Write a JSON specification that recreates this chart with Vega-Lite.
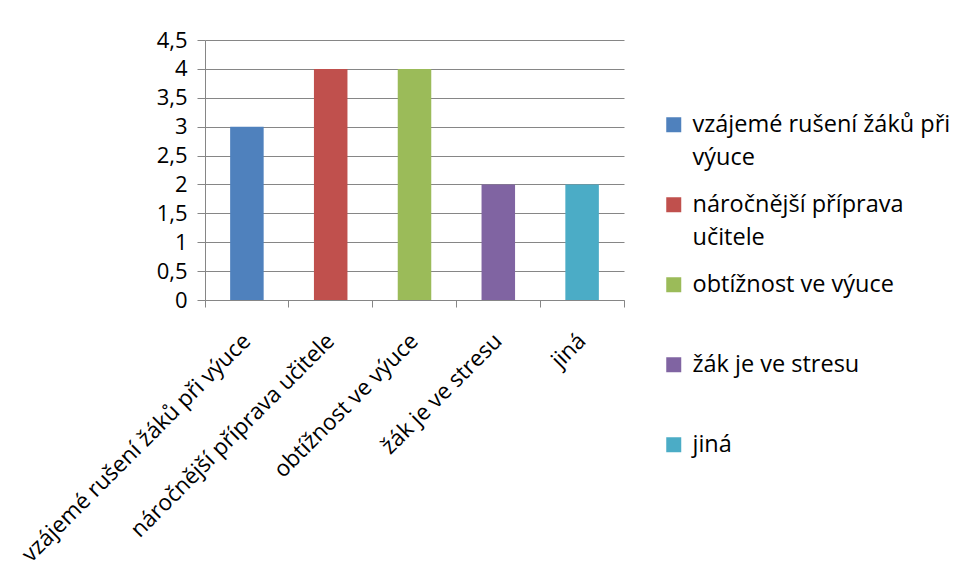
{
  "$schema": "https://vega.github.io/schema/vega-lite/v6.json",
  "width": 419,
  "height": 260,
  "autosize": {"type": "none"},
  "padding": {"left": 205, "top": 40, "right": 334, "bottom": 278},
  "background": "white",
  "data": {
    "values": [
      {"kategorie": "vzájemé rušení žáků při výuce", "pocet": 3},
      {"kategorie": "náročnější příprava učitele", "pocet": 4},
      {"kategorie": "obtížnost ve výuce", "pocet": 4},
      {"kategorie": "žák je ve stresu", "pocet": 2},
      {"kategorie": "jiná", "pocet": 2}
    ]
  },
  "mark": {"type": "bar", "width": {"band": 0.4}},
  "encoding": {
    "x": {
      "field": "kategorie",
      "type": "nominal",
      "sort": null,
      "scale": {"paddingInner": 0, "paddingOuter": 0},
      "axis": {
        "title": null,
        "labelAngle": -45,
        "labelAlign": "right",
        "labelBaseline": "middle",
        "labelLineHeight": 24,
        "bandPosition": 1,
        "tickExtra": true,
        "tickSize": 7,
        "labelPadding": 30,
        "domainColor": "#868686",
        "tickColor": "#868686",
        "labelFont": "Open Sans",
        "labelFontSize": 22.5,
        "labelColor": "black",
        "labelLimit": 600,
        "grid": false
      }
    },
    "y": {
      "field": "pocet",
      "type": "quantitative",
      "scale": {"domain": [0, 4.5], "nice": false},
      "axis": {
        "title": null,
        "values": [0, 0.5, 1, 1.5, 2, 2.5, 3, 3.5, 4, 4.5],
        "labelExpr": "replace(format(datum.value, '.1~f'), '.', ',')",
        "labelLineHeight": 22,
        "grid": true,
        "gridColor": "#868686",
        "domainColor": "#868686",
        "tickColor": "#868686",
        "tickSize": 8,
        "labelPadding": 10,
        "labelFont": "Open Sans",
        "labelFontSize": 22,
        "labelColor": "black"
      }
    },
    "color": {
      "field": "kategorie",
      "type": "nominal",
      "sort": null,
      "scale": {
        "domain": ["vzájemé rušení žáků při výuce", "náročnější příprava učitele", "obtížnost ve výuce", "žák je ve stresu", "jiná"],
        "range": ["#4F81BD", "#C0504D", "#9BBB59", "#8064A2", "#4BACC6"]
      },
      "legend": {
        "orient": "none",
        "legendX": 457,
        "legendY": 73,
        "title": null,
        "symbolType": "square",
        "symbolSize": 225,
        "symbolStrokeWidth": 0,
        "labelFont": "Open Sans",
        "labelFontSize": 23.5,
        "labelColor": "black",
        "labelOffset": 7,
        "labelLimit": 400,
        "rowPadding": 22,
        "labelExpr": "datum.label == 'vzájemé rušení žáků při výuce' ? ['vzájemé rušení žáků při', 'výuce'] : datum.label == 'náročnější příprava učitele' ? ['náročnější příprava', 'učitele'] : [datum.label, '']"
      }
    }
  },
  "config": {
    "view": {"stroke": null},
    "style": {"guide-label": {"lineHeight": 33}}
  }
}
